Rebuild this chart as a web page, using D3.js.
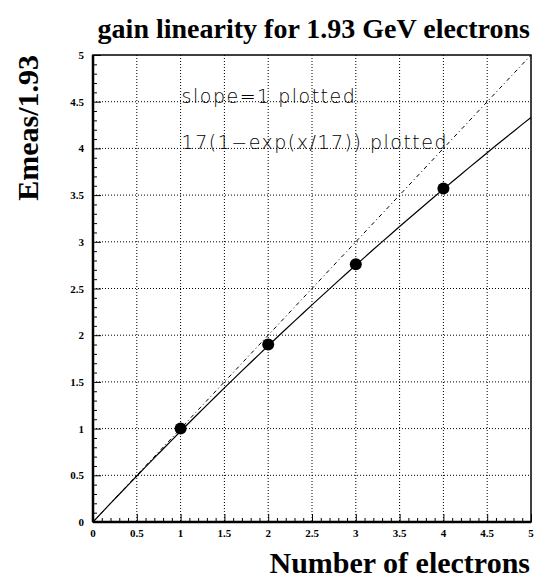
<!DOCTYPE html>
<html>
<head>
<meta charset="utf-8">
<script src="https://cdn.jsdelivr.net/npm/d3@7"></script>
<style>
  body { margin: 0; background: #fff; }
  svg { display: block; }
</style>
</head>
<body>
<script>
var width = 537,
  height = 584,
  plotLeft = 93,
  plotRight = 531,
  plotTop = 55,
  plotBottom = 522;

// measured points
var nElectrons = [1, 2, 3, 4];
var eRatio = [1.0, 1.9, 2.76, 3.57];
var tickValues = [0, 0.5, 1, 1.5, 2, 2.5, 3, 3.5, 4, 4.5, 5];
var tickLabels = ["0", "0.5", "1", "1.5", "2", "2.5", "3", "3.5", "4", "4.5", "5"];
var legendLines = ["slope=1 plotted", "17(1\u2212exp(x/17)) plotted"];
var legendY = [4.5, 4];

var svg = d3
  .select("body")
  .append("svg")
  .attr("width", width)
  .attr("height", height);

var xScale = d3.scaleLinear().domain([0, 5]).range([plotLeft, plotRight]);
var yScale = d3.scaleLinear().domain([0, 5]).range([plotBottom, plotTop]);

// grid
svg
  .append("g")
  .selectAll("line")
  .data(tickValues.slice(1, -1))
  .enter()
  .append("line")
  .attr("x1", (d) => xScale(d))
  .attr("x2", (d) => xScale(d))
  .attr("y1", plotTop)
  .attr("y2", plotBottom)
  .attr("stroke", "#000")
  .attr("stroke-width", 1)
  .attr("stroke-dasharray", "1,2");

svg
  .append("g")
  .selectAll("line")
  .data(tickValues.slice(1, -1))
  .enter()
  .append("line")
  .attr("x1", plotLeft)
  .attr("x2", plotRight)
  .attr("y1", (d) => yScale(d))
  .attr("y2", (d) => yScale(d))
  .attr("stroke", "#000")
  .attr("stroke-width", 1)
  .attr("stroke-dasharray", "1,2");

// axes, ticks pointing inward
var minor = d3.range(0, 5.001, 0.1);
var isMajor = (d) => Math.abs(d * 2 - Math.round(d * 2)) < 1e-6;

var xAxis = d3.axisTop(xScale).tickValues(minor).tickSize(4).tickFormat("");
var gx = svg
  .append("g")
  .attr("transform", `translate(0,${plotBottom})`)
  .call(xAxis);
gx.selectAll(".tick line").filter(isMajor).attr("y2", -8);

var yAxis = d3.axisRight(yScale).tickValues(minor).tickSize(4).tickFormat("");
var gy = svg
  .append("g")
  .attr("transform", `translate(${plotLeft},0)`)
  .call(yAxis);
gy.selectAll(".tick line").filter(isMajor).attr("x2", 8);

svg.selectAll(".domain").remove();

// frame
svg
  .append("rect")
  .attr("x", plotLeft)
  .attr("y", plotTop)
  .attr("width", plotRight - plotLeft)
  .attr("height", plotBottom - plotTop)
  .attr("fill", "none")
  .attr("stroke", "#000")
  .attr("stroke-width", 1.5);
svg
  .append("line")
  .attr("x1", plotLeft).attr("x2", plotLeft)
  .attr("y1", plotTop).attr("y2", plotBottom)
  .attr("stroke", "#000").attr("stroke-width", 2.5);
svg
  .append("line")
  .attr("x1", plotLeft).attr("x2", plotRight)
  .attr("y1", plotBottom).attr("y2", plotBottom)
  .attr("stroke", "#000").attr("stroke-width", 2.5);

// tick labels
svg
  .append("g")
  .selectAll("text")
  .data(tickValues)
  .enter()
  .append("text")
  .attr("x", (d) => xScale(d))
  .attr("y", plotBottom + 15)
  .attr("text-anchor", "middle")
  .attr("font-family", "Liberation Serif, serif")
  .attr("font-weight", "bold")
  .attr("font-size", 11)
  .text((d, i) => tickLabels[i]);

svg
  .append("g")
  .selectAll("text")
  .data(tickValues)
  .enter()
  .append("text")
  .attr("x", plotLeft - 9)
  .attr("y", (d) => yScale(d) + 4)
  .attr("text-anchor", "end")
  .attr("font-family", "Liberation Serif, serif")
  .attr("font-weight", "bold")
  .attr("font-size", 11)
  .text((d, i) => tickLabels[i]);

// slope = 1 reference line
var line = d3
  .line()
  .x((d) => xScale(d[0]))
  .y((d) => yScale(d[1]));

svg
  .append("path")
  .datum([[0, 0], [5, 5]])
  .attr("d", line)
  .attr("fill", "none")
  .attr("stroke", "#000")
  .attr("stroke-width", 1)
  .attr("stroke-dasharray", "4,3,1,3");

// 17(1-exp(-x/17)) curve
var curveX = d3.range(0, 5.001, 0.1);
svg
  .append("path")
  .datum(curveX.map((x) => [x, 17 * (1 - Math.exp(-x / 17))]))
  .attr("d", line)
  .attr("fill", "none")
  .attr("stroke", "#000")
  .attr("stroke-width", 1.2);

// points
svg
  .append("g")
  .selectAll("circle")
  .data(nElectrons)
  .enter()
  .append("circle")
  .attr("cx", (d) => xScale(d))
  .attr("cy", (d, i) => yScale(eRatio[i]))
  .attr("r", 6)
  .attr("fill", "#000");

// legend texts
svg
  .append("g")
  .selectAll("text")
  .data(legendLines)
  .enter()
  .append("text")
  .attr("x", xScale(1) + 1)
  .attr("y", (d, i) => yScale(legendY[i]) + 1)
  .attr("font-family", "DejaVu Sans, sans-serif")
  .attr("font-weight", 200)
  .attr("font-size", 19)
  .attr("letter-spacing", 1.5)
  .attr("fill", "#000")
  .text((d) => d);

// titles
svg
  .append("text")
  .attr("x", 530)
  .attr("y", 38)
  .attr("text-anchor", "end")
  .attr("font-family", "Liberation Serif, serif")
  .attr("font-weight", "bold")
  .attr("font-size", 28)
  .text("gain linearity for 1.93 GeV electrons");

svg
  .append("text")
  .attr("x", 530)
  .attr("y", 573)
  .attr("text-anchor", "end")
  .attr("font-family", "Liberation Serif, serif")
  .attr("font-weight", "bold")
  .attr("font-size", 30)
  .text("Number of electrons");

svg
  .append("text")
  .attr("transform", "translate(38,55) rotate(-90)")
  .attr("text-anchor", "end")
  .attr("font-family", "Liberation Serif, serif")
  .attr("font-weight", "bold")
  .attr("font-size", 30)
  .text("Emeas/1.93");
</script>
</body>
</html>
